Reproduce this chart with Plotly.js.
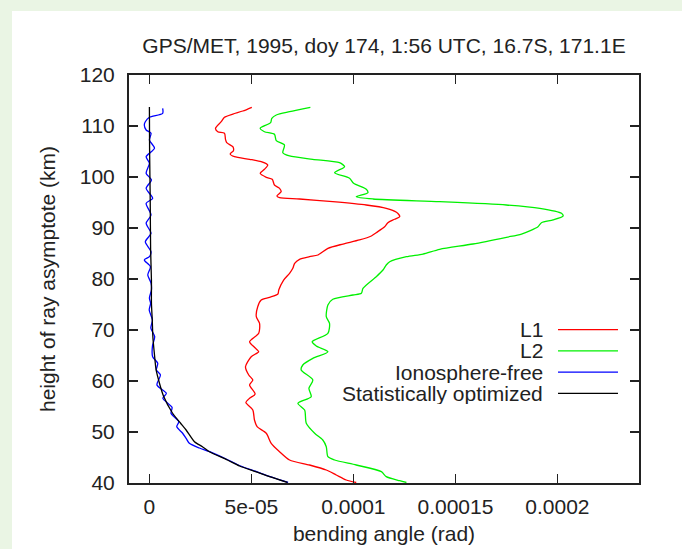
<!DOCTYPE html>
<html><head><meta charset="utf-8">
<script src="https://cdn.plot.ly/plotly-3.0.1.min.js"></script>
<style>
html,body{margin:0;padding:0;background:#eaf5e4;width:682px;height:549px;overflow:hidden;}
#chart{position:absolute;left:12px;top:11px;width:670px;height:538px;background:#fff;}
</style></head><body><div id="chart"></div>
<script>
// heights (km) and bending angles (rad)
const l1Height = [113.67,112.94,112.35,111.71,110.84,109.55,108.88,108.57,107.39,106.73,105.94,105.16,104.51,103.98,103.47,103.0,102.35,101.51,100.73,99.94,99.55,98.43,97.78,97.12,96.27,95.94,95.69,95.16,94.51,93.86,93.08,92.25,91.71,91.04,90.25,89.08,88.43,87.65,86.86,86.02,84.71,84.37,83.86,83.08,82.10,81.12,79.80,77.84,77.06,76.41,75.88,74.57,72.61,71.31,69.35,67.71,66.61,65.75,64.76,62.80,61.18,60.20,59.22,57.45,56.61,55.78,54.31,52.35,51.04,49.75,47.78,46.14,44.51,43.53,42.55,41.57,40.59,40.10];
const l1Angle = [5.02e-5,4.58e-5,4.09e-5,3.68e-5,3.52e-5,3.24e-5,3.35e-5,3.68e-5,3.73e-5,3.79e-5,4.09e-5,4.12e-5,3.96e-5,4.17e-5,4.91e-5,5.48e-5,5.80e-5,5.64e-5,5.43e-5,5.73e-5,6.02e-5,6.13e-5,6.38e-5,6.46e-5,6.25e-5,6.38e-5,7.36e-5,8.99e-5,10.63e-5,11.61e-5,12.11e-5,12.27e-5,12.02e-5,11.69e-5,11.53e-5,11.12e-5,10.88e-5,10.30e-5,9.49e-5,8.75e-5,8.26e-5,7.85e-5,7.36e-5,7.12e-5,7.03e-5,6.87e-5,6.58e-5,6.34e-5,6.30e-5,5.89e-5,5.48e-5,5.31e-5,5.24e-5,5.40e-5,5.36e-5,4.91e-5,5.15e-5,5.36e-5,4.99e-5,4.71e-5,4.87e-5,5.07e-5,4.91e-5,5.18e-5,4.91e-5,4.73e-5,5.07e-5,5.15e-5,5.28e-5,5.73e-5,5.97e-5,6.38e-5,6.87e-5,7.85e-5,8.67e-5,9.16e-5,9.65e-5,10.14e-5];

const l2Height = [113.67,112.80,112.16,111.51,110.65,109.55,108.88,108.37,107.12,106.27,104.76,104.12,103.47,102.80,102.02,100.84,99.75,98.76,97.59,96.92,96.14,95.69,95.16,94.51,93.86,92.88,92.35,91.57,91.04,90.25,88.82,88.18,86.86,85.82,84.90,84.37,83.39,82.75,81.76,80.45,78.18,77.20,76.86,76.02,74.90,72.61,71.31,69.35,67.71,66.86,65.75,64.45,63.14,62.16,60.20,58.57,56.92,55.63,54.31,51.71,49.75,48.43,47.12,45.16,44.51,43.53,42.22,41.24,40.45,40.10];
const l2Angle = [7.89e-5,6.87e-5,6.22e-5,6.00e-5,5.94e-5,5.43e-5,5.64e-5,6.13e-5,6.22e-5,6.62e-5,6.54e-5,6.87e-5,8.01e-5,9.32e-5,9.57e-5,9.08e-5,9.81e-5,10.01e-5,10.63e-5,10.71e-5,10.14e-5,10.96e-5,14.23e-5,17.50e-5,19.14e-5,20.20e-5,20.28e-5,19.79e-5,19.22e-5,19.05e-5,18.24e-5,17.50e-5,15.86e-5,14.23e-5,13.41e-5,12.60e-5,11.78e-5,11.61e-5,11.45e-5,11.12e-5,10.47e-5,10.39e-5,9.98e-5,8.99e-5,8.75e-5,8.67e-5,8.83e-5,8.75e-5,7.98e-5,8.18e-5,8.75e-5,8.01e-5,7.52e-5,7.44e-5,8.01e-5,7.82e-5,7.93e-5,7.28e-5,7.61e-5,7.69e-5,8.10e-5,8.50e-5,8.67e-5,8.75e-5,9.08e-5,10.14e-5,11.37e-5,11.61e-5,12.27e-5,12.60e-5];

const ifHeight = [113.47,112.49,111.71,110.84,110.20,109.22,108.57,107.25,105.63,103.98,102.69,100.73,99.41,97.78,95.82,94.84,92.55,90.92,88.96,87.31,85.35,84.37,83.73,82.41,80.78,79.22,77.84,76.27,75.24,73.92,71.96,70.39,68.69,66.86,64.76,63.47,62.16,61.18,59.22,57.59,56.61,54.84,53.67,52.02,51.04,49.80,48.76,47.78,46.86,46.14,44.51,43.33,42.22,41.24,40.10];
const ifAngle = [0.65e-5,0.65e-5,0,-0.20e-5,-0.25e-5,-0.16e-5,0.08e-5,0,0.25e-5,-0.16e-5,0,-0.16e-5,0.10e-5,-0.16e-5,0.16e-5,-0.16e-5,0.08e-5,-0.16e-5,0.08e-5,-0.20e-5,0.08e-5,0,-0.25e-5,0.05e-5,-0.08e-5,0.08e-5,0.10e-5,0,0.06e-5,-0.01e-5,0.15e-5,0.07e-5,0.26e-5,0.15e-5,0.16e-5,0.41e-5,0.34e-5,0.54e-5,0.37e-5,0.83e-5,0.66e-5,1.11e-5,1.06e-5,1.44e-5,1.34e-5,1.62e-5,1.80e-5,1.96e-5,2.45e-5,2.96e-5,3.86e-5,4.47e-5,5.25e-5,5.91e-5,6.80e-5];

const soHeight = [113.73,105.29,95.49,85.69,79.80,75.29,71.96,68.69,65.10,62.16,59.61,57.06,53.73,51.76,50.39,48.10,47.12,46.14,44.51,43.33,42.22,41.24,40.10];
const soAngle = [0,0.01e-5,0.04e-5,0.06e-5,0.10e-5,0.10e-5,0.14e-5,0.17e-5,0.25e-5,0.33e-5,0.49e-5,0.69e-5,1.13e-5,1.52e-5,1.80e-5,2.21e-5,2.60e-5,2.94e-5,3.83e-5,4.42e-5,5.20e-5,5.89e-5,6.77e-5];

const seriesNames = ['L1','L2','Ionosphere-free','Statistically optimized'];
const seriesColors = ['#ff0000','#00f000','#0000ff','#000000'];

const xTickVals = [0, 5e-5, 1e-4, 1.5e-4, 2e-4];
const xTickText = ['0','5e-05','0.0001','0.00015','0.0002'];
const yTickVals = [40,50,60,70,80,90,100,110,120];

const xs = [l1Angle, l2Angle, ifAngle, soAngle];
const ys = [l1Height, l2Height, ifHeight, soHeight];

const traces = xs.map((x, i) => ({
  x: x, y: ys[i], type: 'scatter', mode: 'lines', name: seriesNames[i],
  line: {color: seriesColors[i], width: 1.3, shape: 'spline', smoothing: 0.7},
  hoverinfo: 'skip'
}));

const legendY = [0.3759, 0.3239, 0.2719, 0.2199];
const annotations = seriesNames.map((n, i) => ({
  xref: 'paper', yref: 'paper', x: 0.8118, y: legendY[i], xanchor: 'right', yanchor: 'middle',
  text: n, showarrow: false, font: {size: 21, color: '#222'},
  borderpad: 0, borderwidth: 0, height: 21, valign: 'middle'
}));
const shapes = seriesNames.map((n, i) => ({
  type: 'line', xref: 'paper', yref: 'paper', x0: 0.8412, x1: 0.9588, y0: legendY[i], y1: legendY[i],
  line: {color: seriesColors[i], width: 1.3}
}));

const axisCommon = {
  ticks: 'inside', ticklen: 9, tickwidth: 1.5, tickcolor: '#222',
  showline: true, linecolor: '#222', linewidth: 2, mirror: 'ticks',
  showgrid: false, zeroline: false, tickfont: {size: 21, color: '#222'}
};

const layout = {
  width: 670, height: 538,
  margin: {l: 117, r: 43, t: 64, b: 66},
  paper_bgcolor: '#ffffff', plot_bgcolor: '#ffffff',
  font: {family: 'Liberation Sans, Arial, sans-serif', size: 21, color: '#222'},
  showlegend: false,
  title: {text: 'GPS/MET, 1995, doy 174, 1:56 UTC, 16.7S, 171.1E', font: {size: 21, color: '#222'},
          xref: 'paper', x: 0.5, xanchor: 'center', y: 0.935, yanchor: 'middle'},
  xaxis: Object.assign({}, axisCommon, {
    range: [-1e-5, 2.4e-4], tickmode: 'array', tickvals: xTickVals, ticktext: xTickText,
    ticklabelstandoff: 4,
    title: {text: 'bending angle (rad)', font: {size: 21, color: '#222'}, standoff: 9}
  }),
  yaxis: Object.assign({}, axisCommon, {
    range: [40, 120], tickmode: 'array', tickvals: yTickVals,
    ticklabelstandoff: 8,
    title: {text: 'height of ray asymptote (km)', font: {size: 21, color: '#222'}, standoff: 18}
  }),
  annotations: annotations,
  shapes: shapes,
  hovermode: false
};

Plotly.newPlot('chart', traces, layout, {displayModeBar: false, staticPlot: true});
</script>
</body></html>
